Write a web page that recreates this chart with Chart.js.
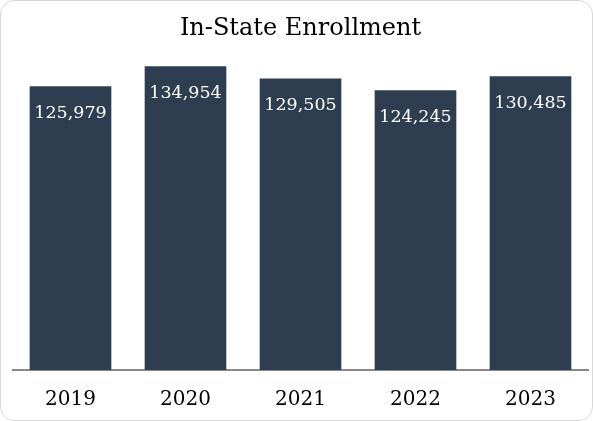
<!DOCTYPE html>
<html>
<head>
<meta charset="utf-8">
<script src="https://cdn.jsdelivr.net/npm/chart.js@4"></script>
<style>
  html, body { margin:0; padding:0; background:#fff; }
  #wrap { position:relative; width:593px; height:421px; box-sizing:border-box;
          border:1px solid #d9d9d9; border-radius:14px; overflow:hidden; }
  #c { position:absolute; left:0; top:0; }
</style>
</head>
<body>
<div id="wrap"><canvas id="c" width="593" height="421"></canvas></div>
<script>
// ── Data ─────────────────────────────────────────────────────────────────────
const years      = ['2019', '2020', '2021', '2022', '2023'];
const enrollment = [125979, 134954, 129505, 124245, 130485];
const chartTitle = 'In-State Enrollment';

const BAR  = '#2e3e50';
const FONT = "'DejaVu Serif', 'Liberation Serif', serif";

// value labels drawn inside the top of each bar
const barLabels = {
  id: 'barLabels',
  afterDatasetsDraw(chart) {
    const { ctx } = chart;
    const meta = chart.getDatasetMeta(0);
    ctx.save();
    ctx.fillStyle = '#ffffff';
    ctx.font = '17.5px ' + FONT;
    ctx.textAlign = 'center';
    ctx.textBaseline = 'alphabetic';
    meta.data.forEach((bar, i) => {
      ctx.fillText(enrollment[i].toLocaleString('en-US'), bar.x, bar.y + 32);
    });
    ctx.restore();
  }
};

Chart.defaults.font.family = FONT;

new Chart(document.getElementById('c').getContext('2d'), {
  type: 'bar',
  data: {
    labels: years,
    datasets: [{
      data: enrollment,
      backgroundColor: BAR,
      borderWidth: 0,
      categoryPercentage: 1,
      barPercentage: 0.71
    }]
  },
  options: {
    responsive: false,
    animation: false,
    layout: { padding: { left: 12, right: 6, top: 7, bottom: 0 } },
    plugins: {
      legend: { display: false },
      tooltip: { enabled: false },
      title: {
        display: true, text: chartTitle, color: '#000',
        font: { size: 24, weight: 'normal' },
        padding: { top: 6, bottom: 12 }
      }
    },
    scales: {
      x: {
        grid: { display: false, drawTicks: false },
        border: { display: true, color: '#888888', width: 2 },
        ticks: { color: '#000', font: { size: 20, lineHeight: 1 }, padding: 20 },
        afterFit(scale) { scale.height = 52; }
      },
      y: { display: false, min: 0, max: 140000 }
    }
  },
  plugins: [barLabels]
});
</script>
</body>
</html>
